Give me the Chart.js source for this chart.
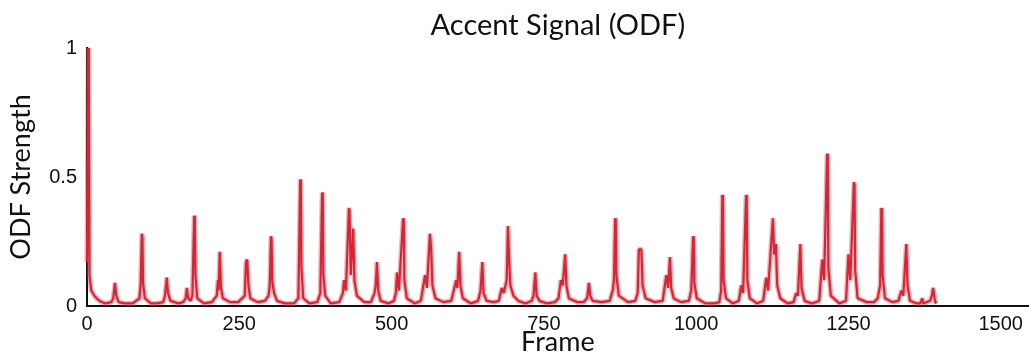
<!DOCTYPE html>
<html>
<head>
<meta charset="utf-8">
<script src="https://cdn.jsdelivr.net/npm/chart.js@4/dist/chart.umd.min.js"></script>
<style>
  body { margin: 0; background: #fff; }
  #wrap { width: 1029px; height: 358px; }
</style>
</head>
<body>
<div id="wrap"><canvas id="odf-chart" width="1029" height="358"></canvas></div>
<script>
const frames = [
    0, 2, 3, 4, 7, 12, 20, 30, 40,
    43, 46, 48, 52, 62, 75,
    86, 88, 90, 91, 92, 95, 105, 115, 125,
    128, 131, 133, 137, 150, 158,
    162, 164, 166, 170, 173, 176, 177, 178, 181, 192, 205,
    213, 215, 216, 218, 220, 223, 235, 248,
    259, 261, 263, 265, 268, 280, 292,
    298, 300, 302, 303, 304, 307, 312, 325, 340,
    347, 350, 351, 352, 355, 365, 378,
    383, 386, 387, 388, 391, 400, 414,
    420, 422, 425, 430, 431, 433, 437, 439, 443, 455, 466,
    472, 474, 476, 478, 482, 495, 504,
    507, 509, 512, 519, 520, 521, 525, 538, 548,
    555, 558, 563, 565, 567, 572, 585, 598,
    606, 608, 611, 613, 617, 630, 642,
    646, 649, 651, 656, 668, 676,
    681, 684, 689, 691, 693, 695, 700, 708, 720, 730,
    733, 736, 738, 743, 755, 768, 774,
    778, 781, 785, 787, 791, 805, 815,
    821, 824, 826, 830, 845, 858,
    863, 865, 867, 868, 869, 873, 888, 900,
    904, 906, 910, 912, 917, 932, 945,
    951, 954, 957, 959, 963, 975, 988,
    992, 995, 996, 997, 1001, 1015, 1030, 1038,
    1041, 1043, 1044, 1045, 1049, 1060, 1070,
    1074, 1077, 1082, 1083, 1084, 1088, 1100, 1110,
    1115, 1118, 1126, 1128, 1131, 1133, 1138, 1150, 1160,
    1164, 1167, 1171, 1173, 1178, 1190, 1202,
    1207, 1210, 1215, 1216, 1217, 1221, 1235, 1246,
    1250, 1253, 1259, 1260, 1261, 1265, 1280, 1292, 1298,
    1302, 1304, 1305, 1306, 1310, 1322, 1332,
    1337, 1340, 1345, 1347, 1351, 1362, 1368, 1371, 1373,
    1384, 1387, 1389, 1392, 1394
];

// onset detection function strength at those frames
const odf = [
    0.17, 1.0, 0.98, 0.12, 0.06, 0.04, 0.02, 0.01, 0.015,
    0.03, 0.09, 0.04, 0.015, 0.01, 0.01,
    0.03, 0.08, 0.28, 0.27, 0.09, 0.03, 0.01, 0.01, 0.015,
    0.04, 0.11, 0.05, 0.02, 0.01, 0.015,
    0.03, 0.07, 0.03, 0.02, 0.04, 0.35, 0.34, 0.12, 0.03, 0.01, 0.015,
    0.04, 0.10, 0.06, 0.21, 0.07, 0.03, 0.015, 0.015,
    0.04, 0.17, 0.18, 0.08, 0.03, 0.015, 0.02,
    0.04, 0.08, 0.27, 0.26, 0.10, 0.05, 0.02, 0.01, 0.01,
    0.03, 0.49, 0.48, 0.15, 0.03, 0.01, 0.015,
    0.05, 0.44, 0.43, 0.12, 0.04, 0.01, 0.015,
    0.05, 0.10, 0.06, 0.38, 0.37, 0.12, 0.30, 0.10, 0.04, 0.015, 0.015,
    0.05, 0.08, 0.17, 0.06, 0.02, 0.01, 0.02,
    0.05, 0.13, 0.06, 0.34, 0.33, 0.10, 0.03, 0.01, 0.02,
    0.12, 0.07, 0.28, 0.22, 0.08, 0.03, 0.015, 0.02,
    0.10, 0.07, 0.21, 0.08, 0.03, 0.01, 0.02,
    0.06, 0.17, 0.05, 0.02, 0.015, 0.02,
    0.07, 0.05, 0.10, 0.31, 0.18, 0.08, 0.04, 0.02, 0.01, 0.02,
    0.04, 0.13, 0.04, 0.02, 0.01, 0.015, 0.03,
    0.10, 0.08, 0.20, 0.08, 0.03, 0.015, 0.015,
    0.03, 0.09, 0.04, 0.02, 0.015, 0.02,
    0.06, 0.10, 0.34, 0.33, 0.12, 0.04, 0.015, 0.02,
    0.05, 0.22, 0.22, 0.08, 0.03, 0.015, 0.02,
    0.12, 0.07, 0.19, 0.07, 0.03, 0.015, 0.02,
    0.06, 0.27, 0.26, 0.09, 0.03, 0.01, 0.01, 0.015,
    0.06, 0.43, 0.42, 0.10, 0.03, 0.01, 0.02,
    0.08, 0.05, 0.43, 0.42, 0.10, 0.03, 0.01, 0.02,
    0.11, 0.06, 0.34, 0.20, 0.24, 0.08, 0.03, 0.01, 0.015,
    0.05, 0.04, 0.24, 0.07, 0.02, 0.01, 0.02,
    0.18, 0.10, 0.59, 0.58, 0.15, 0.04, 0.01, 0.02,
    0.20, 0.10, 0.48, 0.47, 0.14, 0.03, 0.015, 0.015, 0.03,
    0.08, 0.38, 0.37, 0.12, 0.03, 0.015, 0.02,
    0.06, 0.04, 0.24, 0.08, 0.02, 0.01, 0.01, 0.03, 0.01,
    0.02, 0.04, 0.07, 0.02, 0.01
];

const xTicks = [0, 250, 500, 750, 1000, 1250, 1500];
const yTicks = [0, 0.5, 1];

const points = frames.map((f, i) => ({ x: f, y: odf[i] }));

const tickFont = { family: '"Liberation Sans", Arial, sans-serif', size: 20 };
const axisTitleFont = { family: 'Lato, "Open Sans", sans-serif', size: 27 };

new Chart(document.getElementById('odf-chart').getContext('2d'), {
    type: 'line',
    data: {
        datasets: [{
            data: points,
            borderColor: 'rgba(236, 60, 72, 0.4)',
            borderWidth: 5,
            borderJoinStyle: 'bevel',
            pointRadius: 0,
            tension: 0,
            clip: false
        }, {
            data: points,
            borderColor: '#c6172a',
            borderWidth: 2.2,
            borderJoinStyle: 'bevel',
            pointRadius: 0,
            tension: 0,
            clip: false
        }]
    },
    options: {
        responsive: false,
        animation: false,
        layout: { padding: 0 },
        plugins: {
            legend: { display: false },
            tooltip: { enabled: false },
            title: {
                display: true,
                text: 'Accent Signal (ODF)',
                color: '#111',
                fullSize: false,
                font: { family: 'Lato, "Open Sans", sans-serif', size: 29, weight: 'normal', lineHeight: 1.2 },
                padding: { top: 8, bottom: 5.2 }
            }
        },
        scales: {
            x: {
                type: 'linear',
                min: 0,
                max: 1546,
                grid: { display: false, drawTicks: false },
                border: { display: true, color: '#111', width: 2 },
                afterBuildTicks: axis => { axis.ticks = xTicks.map(v => ({ value: v })); },
                ticks: {
                    color: '#111',
                    font: tickFont,
                    padding: 6,
                    maxRotation: 0,
                    callback: v => String(v)
                },
                title: {
                    display: true,
                    text: 'Frame',
                    color: '#111',
                    font: axisTitleFont,
                    padding: { top: 0, bottom: 0 }
                },
                afterFit: axis => { axis.height = 52; }
            },
            y: {
                min: 0,
                max: 1,
                grid: { display: false, drawTicks: false },
                border: { display: true, color: '#111', width: 2 },
                afterBuildTicks: axis => { axis.ticks = yTicks.map(v => ({ value: v })); },
                ticks: {
                    color: '#111',
                    font: tickFont,
                    padding: 10,
                    callback: v => String(v)
                },
                title: {
                    display: true,
                    text: 'ODF Strength',
                    color: '#111',
                    font: axisTitleFont,
                    padding: { top: 5, bottom: 4 }
                },
                afterFit: axis => { axis.width = 87; }
            }
        }
    }
});
</script>
</body>
</html>
